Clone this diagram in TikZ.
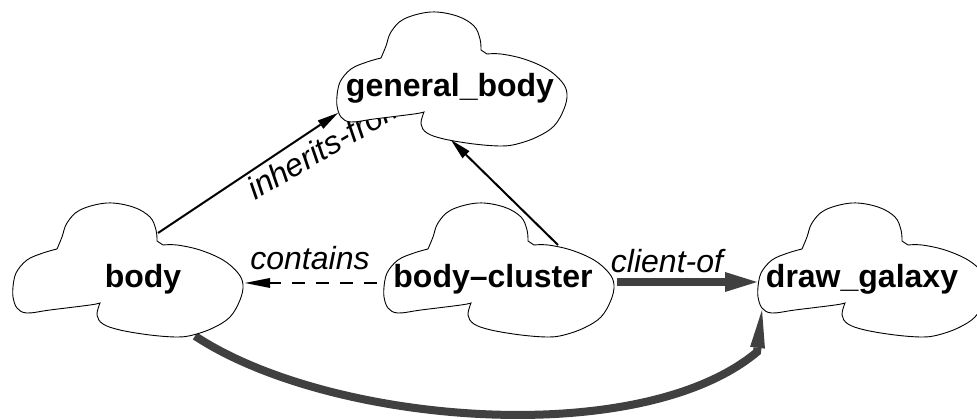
\documentclass[tikz,border=0pt]{standalone}
\usepackage{fontspec}
\setmainfont{Liberation Sans}
\usetikzlibrary{arrows.meta}
\definecolor{arrowgray}{HTML}{404040}
\tikzset{
  cloudpic/.pic={
    \draw[fill=white,line width=0.9pt]
      plot[smooth,tension=0.6] coordinates{(0,84) (3,70) (14,57) (30,50) (44,46)}
      -- plot[smooth,tension=0.6] coordinates{(44,46) (49,34) (54,20) (67,7) (94,0) (120,4) (137,14) (143,27) (144,38)}
      -- plot[smooth,tension=0.6] coordinates{(150,42) (164,42) (187,47) (210,57) (225,70) (230,82) (227,97) (217,114) (200,125) (180,132) (164,134) (137,132) (107,127) (90,121) (84,112) (87,100)}
      -- plot[smooth,tension=0.6] coordinates{(87,100) (77,102) (37,107) (14,110) (4,105) (0,94) (0,84)}
      -- cycle;
  },
  nodelbl/.style={font=\fontsize{32}{38}\selectfont\bfseries, anchor=base, inner sep=0pt},
  edgelbl/.style={font=\fontsize{32}{38}\selectfont\itshape, anchor=base, inner sep=0pt},
  thinarrow/.style={line width=2pt, -{Triangle[length=21pt,width=10pt,line width=0pt]}},
  thickarrow/.style={line width=8pt, draw=arrowgray},
}
\begin{document}
\begin{tikzpicture}[x=1pt,y=-1pt]
\clip (0,0) rectangle (977,419);
\fill[white] (0,0) rectangle (977,419);
% connector end points
\coordinate (bodyTop) at (158,233);
\coordinate (genLeft) at (338,113);
\coordinate (clTop) at (558,245);
\coordinate (genBottom) at (451,140);
\coordinate (clLeft) at (377,283);
\coordinate (bodyRight) at (245,283);
\coordinate (clRight) at (617,282);
\coordinate (dgLeft) at (757,282);
\coordinate (bodyBottom) at (195,336);
\coordinate (curveEnd) at (757,352);
\coordinate (dgLowLeft) at (762,310);
% connectors
\draw[thinarrow] (bodyTop) -- (genLeft);
\node[edgelbl, rotate=30] (inh) at (332,156) {inherits-from};
\draw[thinarrow] (clTop) -- (genBottom);
\draw[line width=2pt, dash pattern=on 13pt off 11pt, -{Triangle[length=25pt,width=10pt,line width=0pt]}] (clLeft) -- (bodyRight);
\node[edgelbl] (cont) at (310,270) {contains};
\draw[thickarrow, -{Triangle[length=32pt,width=20pt,line width=0pt]}] (clRight) -- (dgLeft);
\node[edgelbl] (cli) at (667,273) {client-of};
\draw[thickarrow, -{Triangle[length=38pt,width=15pt,line width=0pt]}] (bodyBottom) .. controls (330,425) and (640,450) .. (curveEnd) -- (dgLowLeft);
% clouds
\pic at (13,203) {cloudpic};
\pic at (337,12) {cloudpic};
\pic at (384,203) {cloudpic};
\pic at (758,203) {cloudpic};
% node texts
\node[nodelbl] (body) at (143,288) {body};
\node[nodelbl] (general) at (450,97) {general\_body};
\node[nodelbl] (cluster) at (493,288) {body–cluster};
\node[nodelbl] (galaxy) at (862,288) {draw\_galaxy};
\end{tikzpicture}
\end{document}
